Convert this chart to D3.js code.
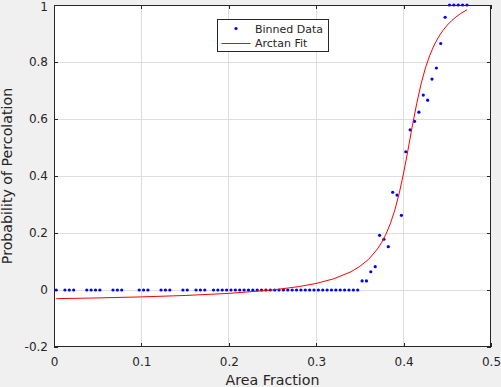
<!DOCTYPE html>
<html>
<head>
<meta charset="utf-8">
<script src="https://cdn.jsdelivr.net/npm/d3@7"></script>
<style>
  html, body { margin: 0; padding: 0; background: #f0f0f0; }
  svg { display: block; }
  text { font-family: "DejaVu Sans", "Liberation Sans", sans-serif; fill: #262626; }
</style>
</head>
<body>
<svg id="chart" width="501" height="387"></svg>
<script>
// ---- Data ----
const binX = [
  0.0025, 0.0125, 0.0175, 0.0225, 0.0375, 0.0425, 0.0475, 0.0525, 0.0675, 0.0725,
  0.0775, 0.0975, 0.1025, 0.1075, 0.1225, 0.1275, 0.1325, 0.1475, 0.1525, 0.1625,
  0.1675, 0.1725, 0.1825, 0.1875, 0.1925, 0.1975, 0.2025, 0.2075, 0.2125, 0.2175,
  0.2225, 0.2275, 0.2325, 0.2375, 0.2425, 0.2475, 0.2525, 0.2575, 0.2625, 0.2675,
  0.2725, 0.2775, 0.2825, 0.2875, 0.2925, 0.2975, 0.3025, 0.3075, 0.3125, 0.3175,
  0.3225, 0.3275, 0.3325, 0.3375, 0.3425, 0.3475, 0.3525, 0.3575, 0.3625, 0.3675,
  0.3725, 0.3775, 0.3825, 0.3875, 0.3925, 0.3975, 0.4025, 0.4075, 0.4125, 0.4175,
  0.4225, 0.4275, 0.4325, 0.4375, 0.4425, 0.4475, 0.4525, 0.4575, 0.4625, 0.4675,
  0.4725
];
const binY = [
  0, 0, 0, 0, 0, 0, 0, 0, 0, 0,
  0, 0, 0, 0, 0, 0, 0, 0, 0, 0,
  0, 0, 0, 0, 0, 0, 0, 0, 0, 0,
  0, 0, 0, 0, 0, 0, 0, 0, 0, 0,
  0, 0, 0, 0, 0, 0, 0, 0, 0, 0,
  0, 0, 0, 0, 0, 0, 0.032, 0.032, 0.064, 0.082,
  0.192, 0.178, 0.152, 0.343, 0.333, 0.262, 0.485, 0.562, 0.592, 0.624,
  0.684, 0.666, 0.740, 0.779, 0.865, 0.957, 1, 1, 1, 1,
  1
];
const fitX = [
  0.0025, 0.05, 0.1, 0.15, 0.2, 0.25, 0.28, 0.3, 0.32, 0.34,
  0.35, 0.36, 0.37, 0.375, 0.38, 0.385, 0.39, 0.395, 0.4, 0.405,
  0.41, 0.415, 0.42, 0.425, 0.43, 0.435, 0.44, 0.445, 0.45, 0.455,
  0.46, 0.465, 0.4725
];
const fitY = [
  -0.0304, -0.0278, -0.0242, -0.0192, -0.0119, 0.0001, 0.0118, 0.0230, 0.0392, 0.0642,
  0.0829, 0.1078, 0.1435, 0.1674, 0.1970, 0.2342, 0.2810, 0.3394, 0.4103, 0.4912,
  0.5755, 0.6547, 0.7233, 0.7793, 0.8240, 0.8594, 0.8878, 0.9107, 0.9296, 0.9452,
  0.9582, 0.9695, 0.9833
];
const xTicks = [0, 0.1, 0.2, 0.3, 0.4, 0.5];
const xTickLabels = ["0", "0.1", "0.2", "0.3", "0.4", "0.5"];
const yTicks = [-0.2, 0, 0.2, 0.4, 0.6, 0.8, 1];
const yTickLabels = ["-0.2", "0", "0.2", "0.4", "0.6", "0.8", "1"];
const legendLabels = ["Binned Data", "Arctan Fit"];
const xLabel = "Area Fraction";
const yLabel = "Probability of Percolation";

// ---- Layout ----
const L = 54, R = 491, T = 5, B = 347;
const svg = d3.select("#chart");
const x = d3.scaleLinear().domain([0, 0.5]).range([L, R]);
const y = d3.scaleLinear().domain([-0.2, 1]).range([B, T]);
const axisCol = "#262626";

// plot background
svg.append("rect").attr("x", L).attr("y", T).attr("width", R - L).attr("height", B - T).attr("fill", "#ffffff");

// grid
const grid = svg.append("g").attr("shape-rendering", "crispEdges").attr("stroke", "#dedede").attr("stroke-width", 1);
xTicks.slice(1, -1).forEach(v => grid.append("line").attr("x1", x(v)).attr("x2", x(v)).attr("y1", T).attr("y2", B));
yTicks.slice(1, -1).forEach(v => grid.append("line").attr("x1", L).attr("x2", R).attr("y1", y(v)).attr("y2", y(v)));

// axes
function styleAxis(g) {
  g.select(".domain").remove();
  g.selectAll(".tick line").attr("stroke", axisCol).attr("shape-rendering", "crispEdges");
  g.selectAll(".tick text").attr("fill", axisCol).attr("font-size", 12)
    .attr("font-family", '"DejaVu Sans", sans-serif');
}
svg.append("g").attr("transform", `translate(0,${B})`)
  .call(d3.axisBottom(x).tickValues(xTicks).tickFormat((d, i) => xTickLabels[i]).tickSizeInner(-4.4).tickSizeOuter(0).tickPadding(10))
  .call(styleAxis);
svg.append("g").attr("transform", `translate(0,${T})`)
  .call(d3.axisTop(x).tickValues(xTicks).tickFormat("").tickSizeInner(-4.4).tickSizeOuter(0))
  .call(styleAxis);
const yAxisG = svg.append("g").attr("transform", `translate(${L},0)`)
  .call(d3.axisLeft(y).tickValues(yTicks).tickFormat((d, i) => yTickLabels[i]).tickSizeInner(-4.4).tickSizeOuter(0).tickPadding(6))
  .call(styleAxis);
// keep the top label "1" fully inside the window
yAxisG.selectAll(".tick text").filter(d => d === 1).attr("dy", "0.42em");
svg.append("g").attr("transform", `translate(${R},0)`)
  .call(d3.axisRight(y).tickValues(yTicks).tickFormat("").tickSizeInner(-4.4).tickSizeOuter(0))
  .call(styleAxis);

// data
const pts = binX.map((v, i) => ({ x: v, y: binY[i] }));
svg.append("g").selectAll("circle").data(pts).join("circle")
  .attr("cx", d => x(d.x)).attr("cy", d => y(d.y)).attr("r", 1.6).attr("fill", "#0000ff");

const fit = fitX.map((v, i) => ({ x: v, y: fitY[i] }));
svg.append("path").datum(fit)
  .attr("d", d3.line().x(d => x(d.x)).y(d => y(d.y)))
  .attr("fill", "none").attr("stroke", "#ff0000").attr("stroke-width", 1);

// box
svg.append("rect").attr("x", L + 0.5).attr("y", T + 0.5).attr("width", R - L - 1).attr("height", B - T - 1)
  .attr("fill", "none").attr("stroke", axisCol).attr("stroke-width", 1).attr("shape-rendering", "crispEdges");

// axis labels
svg.append("text").attr("x", (L + R) / 2).attr("y", 385).attr("text-anchor", "middle")
  .attr("font-size", 14.2).text(xLabel);
svg.append("text").attr("transform", `translate(12,${(T + B) / 2}) rotate(-90)`).attr("text-anchor", "middle")
  .attr("font-size", 14.2).text(yLabel);

// legend
const lg = svg.append("g");
lg.append("rect").attr("x", 217.5).attr("y", 19.5).attr("width", 111).attr("height", 32)
  .attr("fill", "#ffffff").attr("stroke", axisCol).attr("stroke-width", 1).attr("shape-rendering", "crispEdges");
lg.append("circle").attr("cx", 236).attr("cy", 28.5).attr("r", 1.6).attr("fill", "#0000ff");
lg.append("line").attr("x1", 221.5).attr("x2", 250.5).attr("y1", 43.5).attr("y2", 43.5)
  .attr("stroke", "#ff0000").attr("stroke-width", 1);
lg.append("text").attr("x", 255).attr("y", 32.8).attr("font-size", 11).text(legendLabels[0]);
lg.append("text").attr("x", 255).attr("y", 47.4).attr("font-size", 11).text(legendLabels[1]);
</script>
</body>
</html>
